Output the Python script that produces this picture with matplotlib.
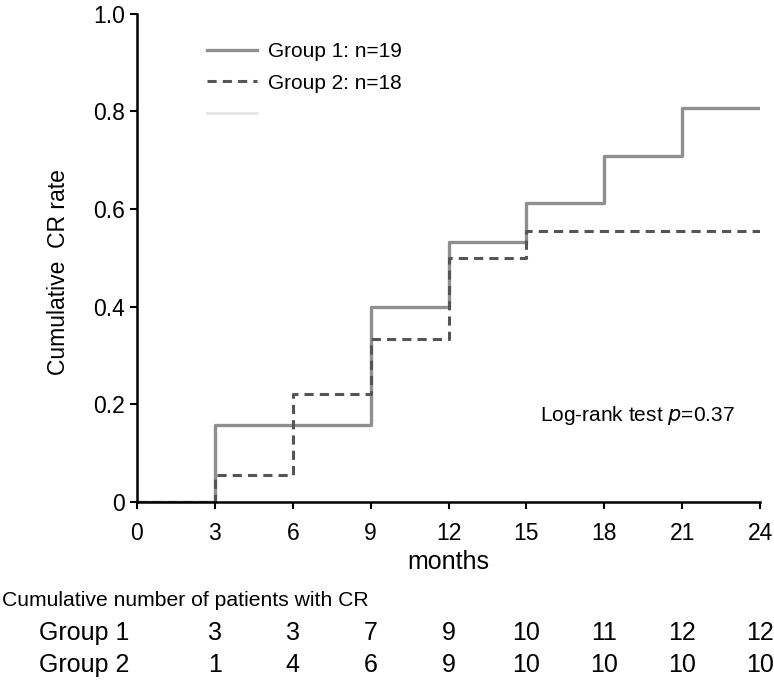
import matplotlib.pyplot as plt
from matplotlib.lines import Line2D
import matplotlib.transforms as mtransforms

plt.rcParams['font.family'] = ['Liberation Sans', 'DejaVu Sans']

# data
months = [0, 3, 6, 9, 12, 15, 18, 21, 24]
group1_rate = [0, 0.158, 0.158, 0.40, 0.533, 0.612, 0.708, 0.806, 0.806]
group2_rate = [0, 0.056, 0.222, 0.333, 0.50, 0.556, 0.556, 0.556, 0.556]

table_months = [3, 6, 9, 12, 15, 18, 21, 24]
group1_counts = [3, 3, 7, 9, 10, 11, 12, 12]
group2_counts = [1, 4, 6, 9, 10, 10, 10, 10]

fig = plt.figure(figsize=(7.74, 6.84), dpi=100)
ax = fig.add_axes([0.177, 0.266, 0.805, 0.714])

ax.step(months, group1_rate, where='post', color='#8f8f8f', lw=2.4,
        label='Group 1: n=19')
ax.step(months, group2_rate, where='post', color='#555555', lw=2.2,
        ls=(0, (3, 2)), label='Group 2: n=18')

handles, labels = ax.get_legend_handles_labels()
handles.append(Line2D([], [], color='#e6e6e6', lw=2))
labels.append(' ')
ax.legend(handles, labels, loc='upper left', bbox_to_anchor=(0.083, 0.98),
          frameon=False, fontsize=15, handlelength=2.4, handletextpad=0.5,
          labelspacing=0.6)

ax.set_xlim(0, 24)
ax.set_ylim(0, 1.0)
ax.set_xticks(range(0, 25, 3))
ax.set_yticks([0, 0.2, 0.4, 0.6, 0.8, 1.0])
ax.set_yticklabels(['0', '0.2', '0.4', '0.6', '0.8', '1.0'])
ax.tick_params(labelsize=16.5, width=1.5, length=5)
ax.tick_params(axis='x', pad=9)
for s in ['top', 'right']:
    ax.spines[s].set_visible(False)
for s in ['left', 'bottom']:
    ax.spines[s].set_linewidth(1.8)

ax.set_xlabel('months', fontsize=18, labelpad=4)
ax.set_ylabel('Cumulative  CR rate', fontsize=16.5)
ax.yaxis.set_label_coords(-0.108, 0.47)

ax.text(0.96, 0.177, r'Log-rank test $\it{p}$=0.37', transform=ax.transAxes,
        ha='right', va='center', fontsize=15)

# cumulative count table under the axis
trans = mtransforms.blended_transform_factory(ax.transData, fig.transFigure)
fig.text(0.002, 1 - 600 / 684, 'Cumulative number of patients with CR',
         fontsize=15.2, va='center', ha='left')
rows = [('Group 1', group1_counts, 633), ('Group 2', group2_counts, 665)]
for name, counts, ypix in rows:
    yf = 1 - ypix / 684
    fig.text(0.05, yf, name, fontsize=18, va='center', ha='left')
    for m, c in zip(table_months, counts):
        ax.text(m, yf, str(c), transform=trans, fontsize=18,
                va='center', ha='center', clip_on=False)

fig.savefig('out.png', dpi=100)
